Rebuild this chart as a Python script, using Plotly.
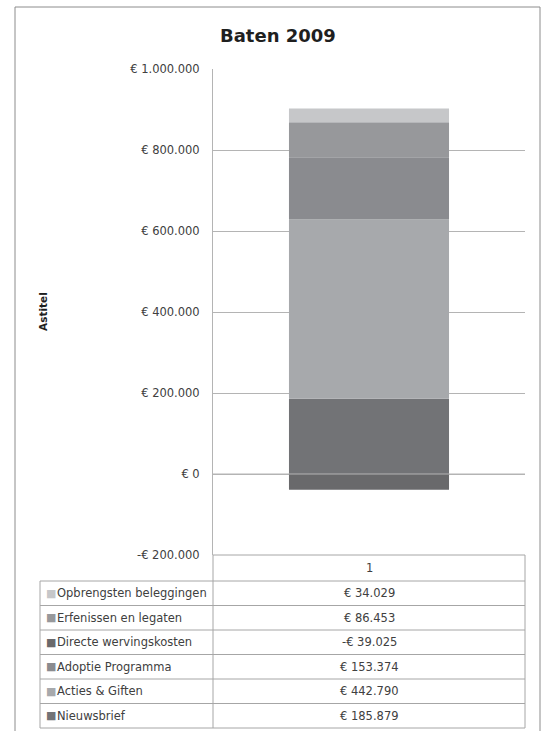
import plotly.graph_objects as go

# data
series = ["Nieuwsbrief", "Acties & Giften", "Adoptie Programma",
          "Directe wervingskosten", "Erfenissen en legaten", "Opbrengsten beleggingen"]
values = [185879, 442790, 153374, -39025, 86453, 34029]
colors = ["#727376", "#a7a9ac", "#8a8b8f", "#69696b", "#97989b", "#c6c7c9"]
category = ["1"]
value_text = ["€ 185.879", "€ 442.790", "€ 153.374", "-€ 39.025", "€ 86.453", "€ 34.029"]
tick_vals = [-200000, 0, 200000, 400000, 600000, 800000, 1000000]
tick_text = ["-€ 200.000", "€ 0", "€ 200.000", "€ 400.000", "€ 600.000", "€ 800.000", "€ 1.000.000"]

W, H = 547, 731
FONT = "DejaVu Sans"
GRID = "#b4b4b4"
LINE = "#a6a6a6"
TXT = "#404040"

# layout in pixels
PLOT_L, PLOT_R, PLOT_T, PLOT_B = 213, 525, 69, 555
TAB_L = 40
HEAD_H, ROW_H = 26, 24.5


def px(x):
    return x / W


def py(y):
    return 1 - y / H


fig = go.Figure()

for name, val, col in zip(series, values, colors):
    fig.add_trace(go.Bar(x=category, y=[val], name=name, marker=dict(color=col, line=dict(width=0))))

shapes = [
    # outer chart border
    dict(type="rect", xref="paper", yref="paper", x0=px(15), x1=px(540), y0=-0.05, y1=py(7),
         line=dict(color="#8c8c8c", width=1), layer="below"),
    # horizontal axis at zero drawn over the bar
    dict(type="line", xref="x domain", yref="y", x0=0, x1=1, y0=0, y1=0,
         line=dict(color=GRID, width=1), layer="above"),
]
annotations = [
    dict(text="<b>Baten 2009</b>", x=px(278), y=py(35), xref="paper", yref="paper",
         xanchor="center", yanchor="middle", showarrow=False,
         font=dict(family=FONT, size=18, color="#1f1f1f")),
    dict(text="<b>Astitel</b>", x=px(43), y=py(312), xref="paper", yref="paper",
         xanchor="center", yanchor="middle", textangle=-90, showarrow=False,
         font=dict(family=FONT, size=10.5, color="#1f1f1f")),
]

# data table under the plot (top row = last stacked series)
n = len(series)
tab_top = PLOT_B + HEAD_H
tab_bot = tab_top + n * ROW_H


def hline(y, x0, x1):
    shapes.append(dict(type="line", xref="paper", yref="paper", x0=px(x0), x1=px(x1),
                       y0=py(y), y1=py(y), line=dict(color=LINE, width=1)))


def vline(x, y0, y1):
    shapes.append(dict(type="line", xref="paper", yref="paper", x0=px(x), x1=px(x),
                       y0=py(y0), y1=py(y1), line=dict(color=LINE, width=1)))


hline(PLOT_B, PLOT_L, PLOT_R)
for k in range(n + 1):
    hline(tab_top + k * ROW_H, TAB_L, PLOT_R)
vline(TAB_L, tab_top, tab_bot)
vline(PLOT_L, PLOT_B, tab_bot)
vline(PLOT_R, PLOT_B, tab_bot)

annotations.append(dict(text=category[0], x=px((PLOT_L + PLOT_R) / 2), y=py(PLOT_B + HEAD_H / 2),
                        xref="paper", yref="paper", xanchor="center", yanchor="middle",
                        showarrow=False, font=dict(family=FONT, size=11.5, color=TXT)))

for row, i in enumerate(reversed(range(n))):
    yc = py(tab_top + (row + 0.5) * ROW_H)
    annotations.append(dict(text="■", x=px(44), y=yc, xref="paper", yref="paper",
                            xanchor="left", yanchor="middle", showarrow=False,
                            font=dict(family=FONT, size=11, color=colors[i])))
    annotations.append(dict(text=series[i], x=px(55), y=yc, xref="paper", yref="paper",
                            xanchor="left", yanchor="middle", showarrow=False,
                            font=dict(family=FONT, size=11.5, color=TXT)))
    annotations.append(dict(text=value_text[i], x=px((PLOT_L + PLOT_R) / 2), y=yc,
                            xref="paper", yref="paper", xanchor="center", yanchor="middle",
                            showarrow=False, font=dict(family=FONT, size=11.5, color=TXT)))

fig.update_layout(
    width=W, height=H,
    # no auto-expanding: annotations near the edges would otherwise push the margins
    margin=dict(l=0, r=0, t=0, b=0, autoexpand=False),
    paper_bgcolor="white", plot_bgcolor="white",
    barmode="relative", bargap=0.487,
    showlegend=False,
    font=dict(family=FONT, size=12, color=TXT),
    xaxis=dict(domain=[px(PLOT_L), px(PLOT_R)], showticklabels=False, showgrid=False,
               zeroline=False, showline=False, fixedrange=True),
    yaxis=dict(domain=[py(PLOT_B), py(PLOT_T)], range=[-200000, 1000000],
               tickvals=tick_vals, ticktext=tick_text, ticklabelstandoff=10,
               showgrid=True, gridcolor=GRID, gridwidth=1, zeroline=False,
               showline=True, linecolor=GRID, linewidth=1, fixedrange=True,
               tickfont=dict(family=FONT, size=11.5, color=TXT)),
    annotations=annotations,
    shapes=shapes,
)

# drop the default body margin so the 547x731 figure fills the window exactly
fig.write_html("out.html", config={"displayModeBar": False},
               post_script="document.body.style.margin = '0';")
